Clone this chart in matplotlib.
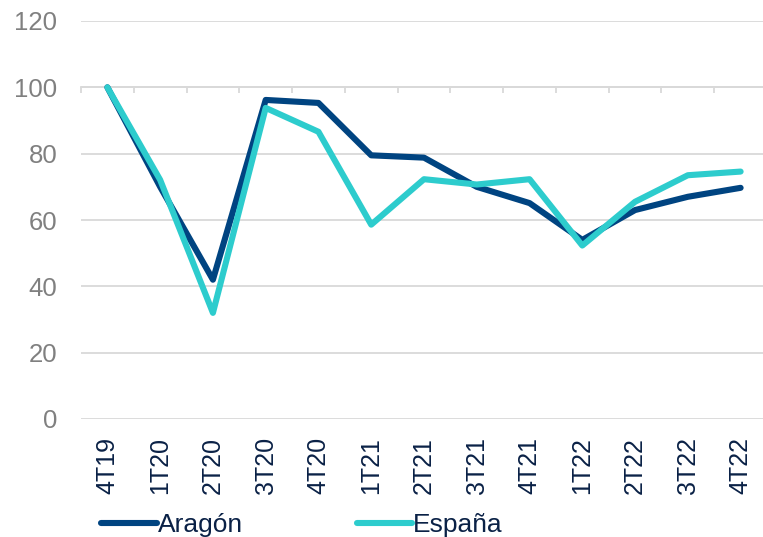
import matplotlib.pyplot as plt
import numpy as np

# Quarterly index, 4T19 = 100
quarters = ['4T19', '1T20', '2T20', '3T20', '4T20', '1T21', '2T21',
            '3T21', '4T21', '1T22', '2T22', '3T22', '4T22']
aragon = [100, 70, 42, 96.2, 95.3, 79.5, 78.8, 70, 65.1, 54, 63, 67, 69.7]
espana = [100, 72.1, 32, 93.8, 86.6, 58.6, 72.3, 70.7, 72.3, 52.3, 65.5, 73.5, 74.6]
y_ticks = [0, 20, 40, 60, 80, 100, 120]

navy = '#004481'
aqua = '#2dcccd'
text_navy = '#0a2146'
grid_col = '#d9d9d9'

plt.rcParams['font.family'] = ['Liberation Sans', 'DejaVu Sans']

fig = plt.figure(figsize=(7.63, 5.37), dpi=100)
ax = fig.add_axes([81 / 763, 1 - 419 / 537, 686 / 763, 398 / 537])

x = np.arange(len(quarters))
ax.plot(x, aragon, color=navy, lw=4.4, solid_capstyle='round',
        solid_joinstyle='round', label='Aragón')
ax.plot(x, espana, color=aqua, lw=4.4, solid_capstyle='round',
        solid_joinstyle='round', label='España')

ax.set_xlim(-0.5, len(quarters) - 0.5)
ax.set_ylim(0, 120)
ax.set_yticks(y_ticks)
ax.yaxis.grid(True, color=grid_col, lw=1.3)
ax.set_axisbelow(True)
for s in ax.spines.values():
    s.set_visible(False)

ax.tick_params(axis='y', length=0, pad=17, labelsize=18.5, labelcolor='#808080')
ax.set_xticks(x)
ax.set_xticklabels(quarters, rotation=90)
ax.tick_params(axis='x', length=0, pad=13, labelsize=18, labelcolor=text_navy)

# category axis crosses at 100, with boundary tick marks
sec = ax.secondary_xaxis(100 / 120)
sec.set_xticks(np.arange(len(quarters) + 1) - 0.5)
sec.set_xticklabels([])
sec.tick_params(direction='in', length=4, width=1.3, color=grid_col)
for s in sec.spines.values():
    s.set_color(grid_col)
    s.set_linewidth(1.3)

fig.legend(loc='center left', bbox_to_anchor=(88 / 763, 1 - 525 / 537),
           ncol=2, frameon=False, fontsize=19, handlelength=2.1,
           handletextpad=0.05, columnspacing=4.3, borderpad=0,
           labelcolor=text_navy)

fig.savefig('out.png', dpi=100)
